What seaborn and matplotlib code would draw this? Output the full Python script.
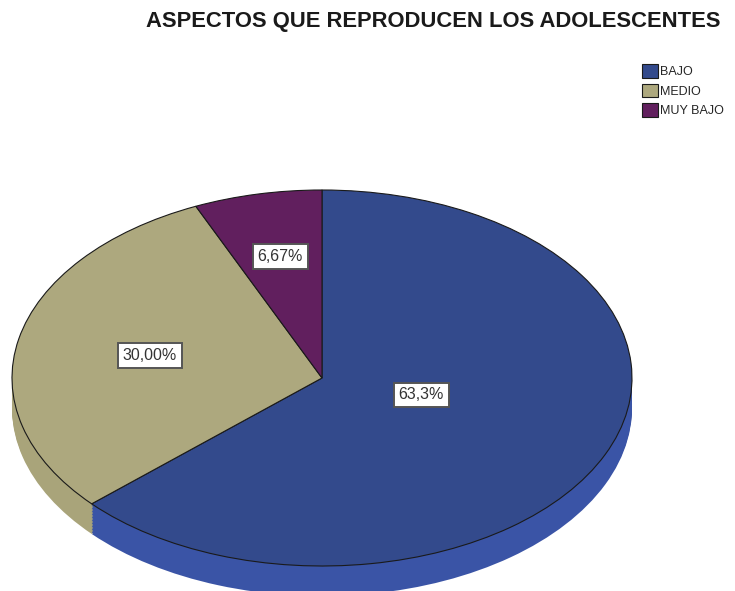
import matplotlib
matplotlib.use("Agg")
import matplotlib.pyplot as plt
import seaborn as sns

categorias = ["BAJO", "MEDIO", "MUY BAJO"]
porcentajes = [63.33, 30.00, 6.67]
etiquetas = ["63,3%", "30,00%", "6,67%"]

colores = ["#334A8C", "#ADA87E", "#611F5E"]
colores_lado = ["#3A54A6", "#A9A47A", "#5A1C57"]

sns.set_style("white")
plt.rcParams["font.family"] = ["Liberation Sans", "DejaVu Sans"]

fig = plt.figure(figsize=(7.35, 5.91), dpi=100)

# ellipse: centre (322,378) px, radii 310 x 188 px
W, H = 735, 591
cx, cy, rx, ry = 322, 378, 310, 188
x0, x1 = -1.04, 1.04
y0, y1 = -1.25, 1.06
ax = fig.add_axes([(cx + x0 * rx) / W, 1 - (cy - y0 * ry) / H,
                   (x1 - x0) * rx / W, (y1 - y0) * ry / H])

# side of the "3d" pie
prof = 0.16
n = 20
for k in range(n, 0, -1):
    ax.pie(porcentajes, colors=colores_lado, startangle=90, counterclock=False,
           center=(0, -prof * k / n), radius=1, frame=True,
           wedgeprops=dict(linewidth=0))

cuñas, _ = ax.pie(porcentajes, colors=colores, startangle=90, counterclock=False,
                  center=(0, 0), radius=1, frame=True,
                  wedgeprops=dict(linewidth=0.8, edgecolor="#1a1a1a"))

ax.set_xlim(x0, x1)
ax.set_ylim(y0, y1)
ax.set_aspect("auto")
ax.axis("off")

pos_etiquetas = [(0.32, -0.09), (-0.555, 0.12), (-0.135, 0.645)]
for (px, py), txt in zip(pos_etiquetas, etiquetas):
    ax.text(px, py, txt, ha="center", va="center", fontsize=11.5, color="#333333",
            bbox=dict(boxstyle="square,pad=0.3", facecolor="white",
                      edgecolor="#555555", linewidth=1.4))

fig.text(0.589, 0.963, "ASPECTOS QUE REPRODUCEN LOS ADOLESCENTES",
         ha="center", va="center", fontsize=15.8, fontweight="bold", color="#1a1a1a")

fig.legend(cuñas, categorias, loc="upper left", bbox_to_anchor=(0.866, 0.9),
           frameon=False, fontsize=9, handlelength=1.3, handleheight=1.3,
           handletextpad=0.15, labelspacing=0.45, borderaxespad=0)

fig.savefig("out.png", dpi=100)
